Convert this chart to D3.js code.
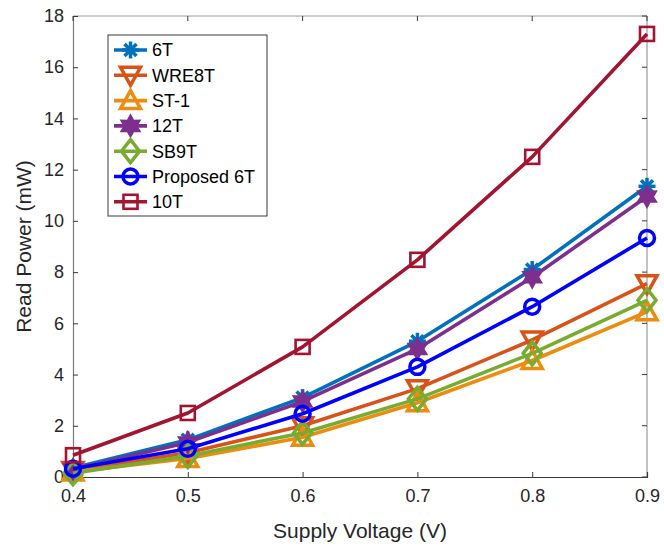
<!DOCTYPE html>
<html>
<head>
<meta charset="utf-8">
<script src="https://cdn.jsdelivr.net/npm/d3@7"></script>
<style>
  html, body { margin: 0; padding: 0; background: #fff; }
  svg { display: block; font-family: "Liberation Sans", Arial, Helvetica, sans-serif; }
</style>
</head>
<body>
<svg id="chart" width="664" height="550"></svg>
<script>
// Supply voltage sweep (V)
const voltages = [0.4, 0.5, 0.6, 0.7, 0.8, 0.9];

// Read power (mW) per cell design
const power6T       = [0.35, 1.45, 3.1, 5.3, 8.1, 11.35];
const powerWRE8T    = [0.25, 0.95, 2.0, 3.45, 5.35, 7.55];
const powerST1      = [0.2, 0.72, 1.55, 2.9, 4.55, 6.45];
const power12T      = [0.3, 1.35, 2.95, 5.0, 7.8, 10.95];
const powerSB9T     = [0.15, 0.82, 1.72, 3.05, 4.83, 6.9];
const powerProposed = [0.32, 1.1, 2.47, 4.3, 6.65, 9.33];
const power10T      = [0.85, 2.5, 5.08, 8.48, 12.5, 17.3];

const seriesNames = ["6T", "WRE8T", "ST-1", "12T", "SB9T", "Proposed 6T", "10T"];

const xTicks = [0.4, 0.5, 0.6, 0.7, 0.8, 0.9];
const yTicks = [0, 2, 4, 6, 8, 10, 12, 14, 16, 18];

const series = [
  { name: seriesNames[0], values: power6T,       color: "#0072BD", marker: "asterisk" },
  { name: seriesNames[1], values: powerWRE8T,    color: "#D95319", marker: "triDown" },
  { name: seriesNames[2], values: powerST1,      color: "#EC8C10", marker: "triUp" },
  { name: seriesNames[3], values: power12T,      color: "#7E2F8E", marker: "hexagram" },
  { name: seriesNames[4], values: powerSB9T,     color: "#77AC30", marker: "diamond" },
  { name: seriesNames[5], values: powerProposed, color: "#0000FF", marker: "circle" },
  { name: seriesNames[6], values: power10T,      color: "#A2142F", marker: "square" }
];

const W = 664, H = 550;
const margin = { left: 73, right: 17, top: 16, bottom: 73 };
const svg = d3.select("#chart");

const x = d3.scaleLinear().domain([0.4, 0.9]).range([margin.left, W - margin.right]);
const y = d3.scaleLinear().domain([0, 18]).range([H - margin.bottom, margin.top]);

const x0 = margin.left, x1 = W - margin.right, y0 = H - margin.bottom, y1 = margin.top;

// Frame: top and right edges lighter
svg.append("line").attr("x1", x0).attr("x2", x1).attr("y1", y1).attr("y2", y1)
  .attr("stroke", "#9a9a9a").attr("stroke-width", 1.2);
svg.append("line").attr("x1", x1).attr("x2", x1).attr("y1", y1).attr("y2", y0)
  .attr("stroke", "#9a9a9a").attr("stroke-width", 1.2);

// Axes (ticks point inward)
const xAxis = d3.axisBottom(x).tickValues(xTicks).tickSize(-5).tickPadding(12)
  .tickFormat(d3.format(".1f"));
const yAxis = d3.axisLeft(y).tickValues(yTicks).tickSize(-5).tickPadding(9)
  .tickFormat(d3.format("d"));

const gx = svg.append("g").attr("transform", `translate(0,${y0})`).call(xAxis);
const gy = svg.append("g").attr("transform", `translate(${x0},0)`).call(yAxis);
[gx, gy].forEach(g => {
  g.select(".domain").attr("stroke", "#3a3a3a").attr("stroke-width", 1.2);
  g.selectAll(".tick line").attr("stroke", "#3a3a3a");
  g.selectAll(".tick text").attr("fill", "#262626").attr("font-size", 18)
    .attr("font-family", "Liberation Sans, Arial, sans-serif");
});
gy.select(".domain").attr("stroke", "#7a7a7a");

// Mirrored ticks on top and right
svg.append("g").selectAll("line").data(xTicks).join("line")
  .attr("x1", d => x(d)).attr("x2", d => x(d)).attr("y1", y1).attr("y2", y1 + 5)
  .attr("stroke", "#3a3a3a");
svg.append("g").selectAll("line").data(yTicks).join("line")
  .attr("x1", x1).attr("x2", x1 - 5).attr("y1", d => y(d)).attr("y2", d => y(d))
  .attr("stroke", "#3a3a3a");

// Axis titles
svg.append("text").attr("x", (x0 + x1) / 2).attr("y", 538).attr("text-anchor", "middle")
  .attr("font-size", 21).attr("fill", "#262626").text("Supply Voltage (V)");
svg.append("text").attr("transform", `translate(31,${(y0 + y1) / 2}) rotate(-90)`)
  .attr("text-anchor", "middle").attr("font-size", 21).attr("fill", "#262626")
  .text("Read Power (mW)");

// Marker shapes
function drawMarker(g, type, cx, cy, color) {
  const sw = 3.5;
  const m = g.append("g").attr("transform", `translate(${cx},${cy})`);
  if (type === "asterisk") {
    const r = 8.5;
    [0, 45, 90, 135].forEach(a => {
      const rad = a * Math.PI / 180;
      m.append("line")
        .attr("x1", -r * Math.cos(rad)).attr("y1", -r * Math.sin(rad))
        .attr("x2", r * Math.cos(rad)).attr("y2", r * Math.sin(rad))
        .attr("stroke", color).attr("stroke-width", sw);
    });
    m.append("circle").attr("r", 4.5).attr("fill", color);
  } else if (type === "triDown") {
    const s = 10;
    m.append("path").attr("d", `M${-s},${-s * 0.8}L${s},${-s * 0.8}L0,${s}Z`)
      .attr("fill", "none").attr("stroke", color).attr("stroke-width", sw);
  } else if (type === "triUp") {
    const s = 10;
    m.append("path").attr("d", `M${-s},${s * 0.8}L${s},${s * 0.8}L0,${-s}Z`)
      .attr("fill", "none").attr("stroke", color).attr("stroke-width", sw);
  } else if (type === "hexagram") {
    const R = 11, r = 6.2;
    const pts = [];
    for (let i = 0; i < 12; i++) {
      const a = -Math.PI / 2 + i * Math.PI / 6;
      const rr = i % 2 === 0 ? R : r;
      pts.push([rr * Math.cos(a), rr * Math.sin(a)]);
    }
    m.append("path").attr("d", "M" + pts.join("L") + "Z")
      .attr("fill", color).attr("stroke", color).attr("stroke-width", 1.5);
  } else if (type === "diamond") {
    const w = 9, h = 11.5;
    m.append("path").attr("d", `M0,${-h}L${w},0L0,${h}L${-w},0Z`)
      .attr("fill", "none").attr("stroke", color).attr("stroke-width", sw);
  } else if (type === "circle") {
    m.append("circle").attr("r", 7.5).attr("fill", "none")
      .attr("stroke", color).attr("stroke-width", sw);
  } else if (type === "square") {
    m.append("rect").attr("x", -7).attr("y", -7).attr("width", 14).attr("height", 14)
      .attr("fill", "none").attr("stroke", color).attr("stroke-width", 2.6);
  }
}

// Lines and markers, in plotting order
const line = d3.line().x((d, i) => x(voltages[i])).y(d => y(d));
const plot = svg.append("g");
series.forEach(s => {
  const g = plot.append("g");
  g.append("path").datum(s.values).attr("d", line)
    .attr("fill", "none").attr("stroke", s.color).attr("stroke-width", 3.6)
    .attr("stroke-linejoin", "round");
  s.values.forEach((v, i) => drawMarker(g, s.marker, x(voltages[i]), y(v), s.color));
});

// Legend
const lg = svg.append("g");
const lx = 108, ly = 35, lw = 159, lh = 181, row = 25.3, firstRow = 50;
lg.append("rect").attr("x", lx).attr("y", ly).attr("width", lw).attr("height", lh)
  .attr("fill", "#fff").attr("stroke", "#3a3a3a").attr("stroke-width", 1);
series.forEach((s, i) => {
  const yy = firstRow + i * row;
  lg.append("line").attr("x1", 114).attr("x2", 147).attr("y1", yy).attr("y2", yy)
    .attr("stroke", s.color).attr("stroke-width", 3.6);
  drawMarker(lg, s.marker, 130.5, yy, s.color);
  lg.append("text").attr("x", 152).attr("y", yy).attr("dy", "0.35em")
    .attr("font-size", 18).attr("fill", "#000").text(s.name);
});
</script>
</body>
</html>
